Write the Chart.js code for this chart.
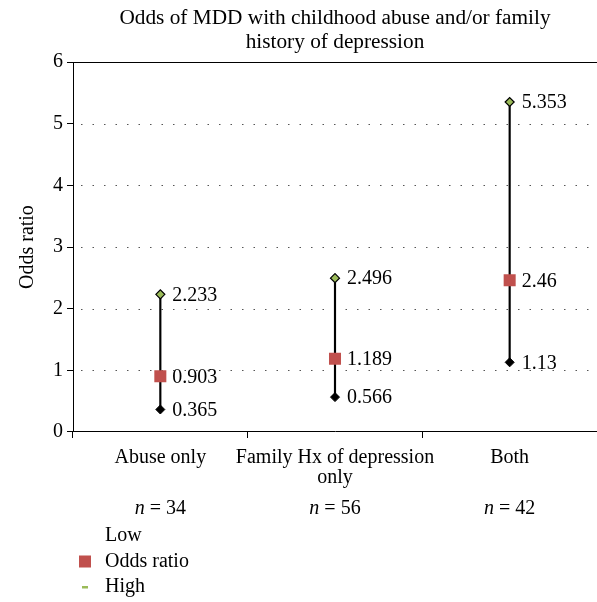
<!DOCTYPE html>
<html>
<head>
<meta charset="utf-8">
<script src="https://cdn.jsdelivr.net/npm/chart.js@4/dist/chart.umd.min.js"></script>
<style>
  body { margin: 0; background: #fff; }
  #wrap { width: 597px; height: 602px; }
</style>
</head>
<body>
<div id="wrap"><canvas id="myChart" width="597" height="602"></canvas></div>
<script>
// data
const categories = ['Abuse only', ['Family Hx of depression', 'only'], 'Both'];
const groupSizes = [34, 56, 42];
const lowValues = [0.365, 0.566, 1.13];
const oddsRatios = [0.903, 1.189, 2.46];
const highValues = [2.233, 2.496, 5.353];
const yTicks = [0, 1, 2, 3, 4, 5, 6];

const serif = '"Liberation Serif", "Times New Roman", serif';
const ranges = lowValues.map((v, i) => [v, highValues[i]]);

// dotted grid, solid top line, value labels, n row and legend
const extras = {
  id: 'extras',
  beforeDatasetsDraw(chart) {
    const { ctx, chartArea: a, scales: { y } } = chart;
    ctx.save();
    ctx.strokeStyle = '#555';
    ctx.lineWidth = 1;
    ctx.setLineDash([1.5, 10]);
    yTicks.slice(1, -1).forEach(t => {
      const py = Math.round(y.getPixelForValue(t)) + 0.5;
      ctx.beginPath();
      ctx.moveTo(a.left + 8, py);
      ctx.lineTo(a.right, py);
      ctx.stroke();
    });
    ctx.setLineDash([]);
    ctx.strokeStyle = '#000';
    const top = Math.round(y.getPixelForValue(6)) + 0.5;
    ctx.beginPath();
    ctx.moveTo(a.left, top);
    ctx.lineTo(a.right, top);
    ctx.stroke();
    ctx.restore();
  },
  afterDatasetsDraw(chart) {
    const { ctx, chartArea: a, scales: { x } } = chart;
    ctx.save();
    ctx.fillStyle = '#000';
    ctx.font = '20px ' + serif;
    ctx.textBaseline = 'middle';
    ctx.textAlign = 'left';
    [1, 2, 3].forEach(di => {
      const meta = chart.getDatasetMeta(di);
      const vals = chart.data.datasets[di].data;
      meta.data.forEach((pt, i) => {
        ctx.fillText(String(vals[i]), pt.x + 12, pt.y + 1);
      });
    });

    // n = .. row
    const ny = a.bottom + 77;
    groupSizes.forEach((n, i) => {
      const cx = x.getPixelForValue(i);
      const rest = ' = ' + n;
      ctx.font = 'italic 20px ' + serif;
      const w1 = ctx.measureText('n').width;
      ctx.font = '20px ' + serif;
      const w2 = ctx.measureText(rest).width;
      const sx = cx - (w1 + w2) / 2;
      ctx.font = 'italic 20px ' + serif;
      ctx.fillText('n', sx, ny);
      ctx.font = '20px ' + serif;
      ctx.fillText(rest, sx + w1, ny);
    });

    // legend
    const items = chart.data.datasets.slice(1);
    const lx = 85, tx = 105;
    let ly = a.bottom + 104;
    ctx.font = '20px ' + serif;
    items.forEach(ds => {
      if (ds.label === 'Odds ratio') {
        ctx.fillStyle = ds.backgroundColor;
        ctx.fillRect(lx - 6, ly - 6, 12, 12);
      } else if (ds.label === 'High') {
        ctx.fillStyle = ds.backgroundColor;
        ctx.fillRect(lx - 3, ly - 1, 6, 2.5);
      }
      ctx.fillStyle = '#000';
      ctx.fillText(ds.label, tx, ly);
      ly += 25.5;
    });
    ctx.restore();
  }
};

const config = {
  type: 'bar',
  data: {
    labels: categories,
    datasets: [
      {
        label: 'range',
        data: ranges,
        backgroundColor: '#000',
        barThickness: 1.5,
        order: 10
      },
      {
        type: 'line',
        label: 'Low',
        data: lowValues,
        showLine: false,
        pointStyle: 'rectRot',
        pointRadius: 4.5,
        backgroundColor: '#000',
        borderColor: '#000',
        borderWidth: 1,
        order: 1
      },
      {
        type: 'line',
        label: 'Odds ratio',
        data: oddsRatios,
        showLine: false,
        pointStyle: 'rect',
        pointRadius: 8.5,
        backgroundColor: '#C0504D',
        borderColor: '#C0504D',
        borderWidth: 0,
        order: 1
      },
      {
        type: 'line',
        label: 'High',
        data: highValues,
        showLine: false,
        pointStyle: 'rectRot',
        pointRadius: 4.5,
        backgroundColor: '#9BBB59',
        borderColor: '#000',
        borderWidth: 1.2,
        order: 1
      }
    ]
  },
  options: {
    responsive: false,
    animation: false,
    events: [],
    layout: { autoPadding: false, padding: { left: 0, right: 0, top: 0, bottom: 0 } },
    plugins: {
      legend: { display: false },
      tooltip: { enabled: false },
      title: {
        display: true,
        fullSize: false,
        text: ['Odds of MDD with childhood abuse and/or family', 'history of depression'],
        color: '#000',
        font: { family: serif, size: 21.3, weight: 'normal', lineHeight: 1.13 },
        padding: { top: 6, bottom: 8 }
      }
    },
    scales: {
      x: {
        grid: { display: true, drawOnChartArea: false, offset: true, tickLength: 6, color: '#000' },
        border: { color: '#000', width: 1 },
        ticks: { color: '#000', font: { family: serif, size: 20, lineHeight: 1.0 }, padding: 10, maxRotation: 0, autoSkip: false },
        afterFit(scale) {
          scale.height = 170;
          scale.paddingLeft = 0;
          scale.paddingRight = 0;
        }
      },
      y: {
        min: 0,
        max: 6,
        ticks: { stepSize: 1, color: '#000', font: { family: serif, size: 20 }, padding: 4 },
        grid: { drawOnChartArea: false, tickLength: 6, color: '#000' },
        border: { color: '#000', width: 1 },
        title: {
          display: true,
          text: 'Odds ratio',
          color: '#000',
          font: { family: serif, size: 20 },
          padding: { top: 16, bottom: 0 }
        },
        afterFit(scale) { scale.width = 73; }
      }
    }
  },
  plugins: [extras]
};

let ctx = document.getElementById('myChart').getContext('2d');
let myChart = new Chart(ctx, config);
</script>
</body>
</html>
